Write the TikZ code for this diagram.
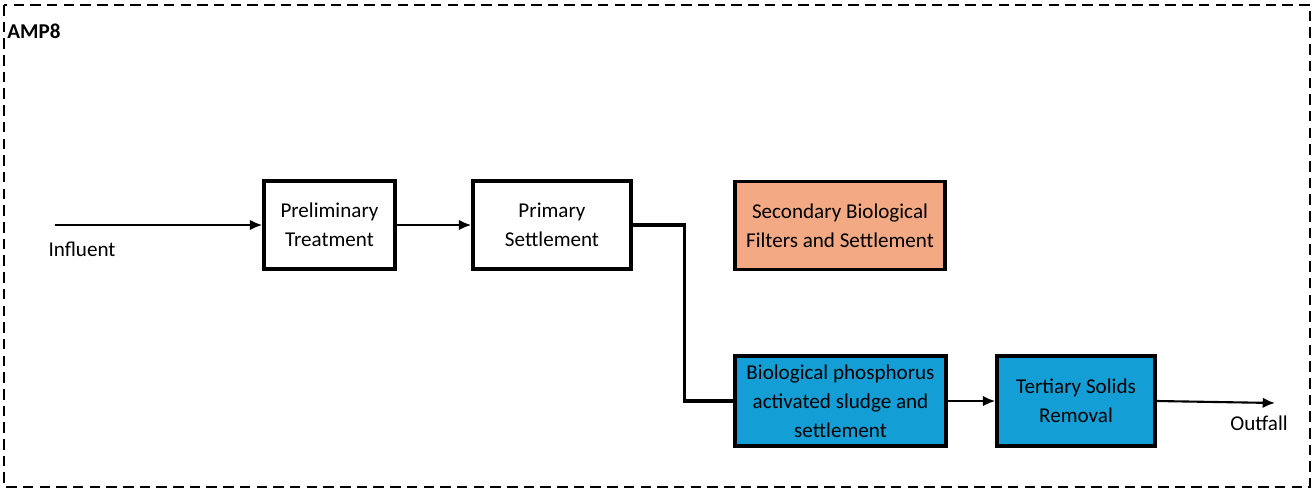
\documentclass[tikz,border=0pt]{standalone}
\usepackage{fontspec}
\setmainfont{Carlito}
\usepackage{tikz}
\usetikzlibrary{positioning,arrows,arrows.meta,backgrounds}
\definecolor{secfill}{HTML}{F2A984}
\definecolor{biofill}{HTML}{139FD6}
\tikzstyle{stage} = [rectangle, minimum height=1.76cm, align=center, draw=black, line width=2pt, font=\fontsize{12}{16.4}\selectfont]
\tikzstyle{arrow} = [line width=1.2pt,-{Latex[length=7pt,width=6pt]}]
\tikzset{
 pipe/.style
  = {draw, line width=1.8pt},
 lbl/.style
  = {inner sep=0pt, font=\fontsize{12}{14}\selectfont},
 frame/.style
  = {draw, line width=1.3pt, dash pattern=on 6pt off 3.5pt},
}
\begin{document}
\begin{tikzpicture}
\useasboundingbox (0,0) rectangle (26.28,-9.78);
\draw [frame] (0.08,-0.1) rectangle (26.2,-9.74);
\node (amp) [lbl, anchor=west, font=\fontsize{12}{14}\selectfont\bfseries] at (0.14,-0.62) {AMP8};
\coordinate (in) at (1.1,-4.5);
\node (prelim) [stage, minimum width=2.62cm] at (6.59,-4.5) {Preliminary\\Treatment};
\node (primary) [stage, minimum width=3.16cm] at (11.04,-4.5) {Primary\\Settlement};
\node (second) [stage, minimum width=4.2cm, fill=secfill] at (16.8,-4.51) {Secondary Biological\\Filters and Settlement};
\node (biop) [stage, minimum width=4.22cm, minimum height=1.8cm, fill=biofill] at (16.81,-8.02) {Biological phosphorus\\activated sludge and\\settlement};
\node (tert) [stage, minimum width=3.16cm, minimum height=1.8cm, fill=biofill] at (21.52,-8.02) {Tertiary Solids\\Removal};
\coordinate (out) at (25.5,-8.06);
\node (influent) [lbl] at (1.64,-4.98) {Influent};
\node (outfall) [lbl] at (25.18,-8.46) {Outfall};
\draw [arrow] (in) -- (prelim);
\draw [arrow] (prelim) -- (primary);
\draw [pipe] (primary.east) -- ++(1.04,0) |- (biop.west);
\draw [arrow] (biop) -- (tert);
\draw [arrow] (tert.east) -- (out);
\end{tikzpicture}
\end{document}
